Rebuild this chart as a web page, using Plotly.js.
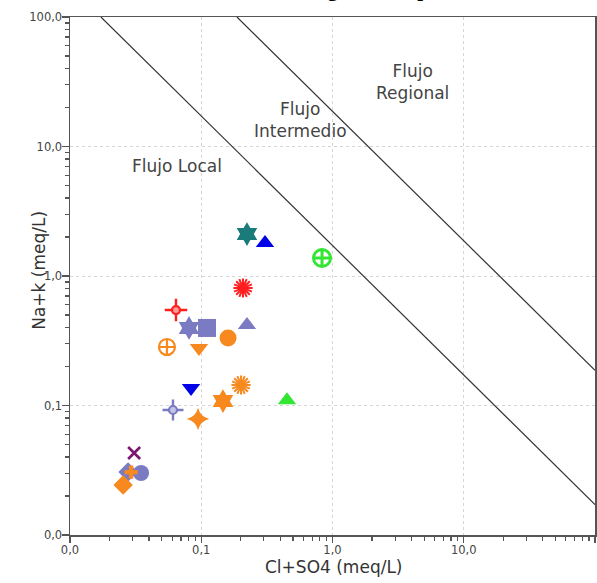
<!DOCTYPE html>
<html>
<head>
<meta charset="utf-8">
<script src="https://cdn.plot.ly/plotly-3.0.1.min.js"></script>
<style>html,body{margin:0;padding:0;background:#fff;}#chart{width:597px;height:583px;}</style>
</head>
<body>
<div id="chart"></div>
<script>
// ---- data ----
const sampleIds = ['M01','M02','M03','M04','M05','M06','M07','M08','M09','M10','M11',
                   'M12','M13','M14','M15','M16','M17','M18','M19','M20','M21','M22'];
const clSo4 = [0.223, 0.306, 0.832, 0.208, 0.0642, 0.0807, 0.1106, 0.223, 0.160, 0.0548, 0.0961,
               0.0836, 0.201, 0.1464, 0.450, 0.0609, 0.0945, 0.0308, 0.0277, 0.0348, 0.0292, 0.0254];
const naK   = [2.11, 1.80, 1.377, 0.808, 0.546, 0.397, 0.397, 0.418, 0.332, 0.283, 0.278,
               0.1365, 0.144, 0.1083, 0.110, 0.0923, 0.0787, 0.043, 0.0306, 0.0301, 0.0306, 0.0243];

// boundary lines between flow systems
const localLineX = [0.0172, 100];
const localLineY = [100, 0.0172];
const regionalLineX = [0.187, 100];
const regionalLineY = [100, 0.187];

const decadeValues = [0.01, 0.1, 1, 10, 100];
const decadeLabels = ['0,0', '0,1', '1,0', '10,0', '100,0'];

const zoneLabels = ['Flujo Local', 'Flujo<br>Intermedio', 'Flujo<br>Regional'];
const xTitle = 'Cl+SO4 (meq/L)';
const yTitle = 'Na+k (meq/L)';
const topTitle = 'Diagrama de pozos';

// ---- tick positions (major decades + minor 2..9) ----
const tickVals = [], tickText = [];
decadeValues.forEach(function(d, k){
  tickVals.push(d); tickText.push(decadeLabels[k]);
  if (k < decadeValues.length - 1) {
    for (let m = 2; m <= 9; m++) { tickVals.push(d * m); tickText.push(''); }
  }
});

// ---- styles ----
const C = {teal:'#1b7b7b', blue:'#0000e6', green:'#33e633', red:'#ff1f1f',
           slate:'#7b7bc4', orange:'#f7891f', purple:'#7d1670'};
const styles = [
  {s:'hexagram', c:C.teal, z:18},
  {s:'triangle-up', c:C.blue, z:16},
  {s:'circle-cross-open', c:C.green, z:17, w:3},
  {s:'burst', c:C.red, z:16, w:2},
  {s:'crosshair', c:C.red, z:16, f:'#ff9a9a'},
  {s:'hexagram', c:C.slate, z:18},
  {s:'square', c:C.slate, z:18},
  {s:'triangle-up', c:C.slate, z:16},
  {s:'circle', c:C.orange, z:17},
  {s:'circle-cross-open', c:C.orange, z:16, w:2.2},
  {s:'triangle-down', c:C.orange, z:16},
  {s:'triangle-down', c:C.blue, z:16},
  {s:'burst', c:C.orange, z:16, w:2},
  {s:'hexagram', c:C.orange, z:18},
  {s:'triangle-up', c:C.green, z:16},
  {s:'crosshair', c:C.slate, z:15, f:'#c4c4e8'},
  {s:'star-diamond', c:C.orange, z:16},
  {s:'x-thin-open', c:C.purple, z:12, w:2.6},
  {s:'diamond', c:C.slate, z:15},
  {s:'circle', c:C.slate, z:16},
  {s:'cross', c:C.orange, z:11},
  {s:'diamond', c:C.orange, z:15}
];

const traces = [];
// empty trace to create the overlay axes used for decade ticks and grid
traces.push({x:[], y:[], xaxis:'x2', yaxis:'y2', mode:'markers', showlegend:false, hoverinfo:'skip'});
traces.push({x: localLineX, y: localLineY, mode:'lines', line:{color:'#333', width:1.2}, hoverinfo:'skip', showlegend:false});
traces.push({x: regionalLineX, y: regionalLineY, mode:'lines', line:{color:'#333', width:1.2}, hoverinfo:'skip', showlegend:false});

sampleIds.forEach(function(id, i){
  const st = styles[i];
  const pt = {x:[clSo4[i]], y:[naK[i]], name:id, mode:'markers', showlegend:false, cliponaxis:false};
  if (st.s === 'crosshair') {
    traces.push(Object.assign({}, pt, {marker:{symbol:'cross-thin-open', size:st.z, color:st.c, line:{color:st.c, width:2.4}}}));
    traces.push(Object.assign({}, pt, {marker:{symbol:'circle', size:Math.round(st.z*0.5), color:st.f, line:{color:st.c, width:2.2}}}));
  } else if (st.s === 'burst') {
    traces.push(Object.assign({}, pt, {marker:{symbol:'asterisk-open', size:st.z, color:st.c, line:{color:st.c, width:st.w}}}));
    traces.push(Object.assign({}, pt, {marker:{symbol:'asterisk-open', size:st.z, angle:22.5, color:st.c, line:{color:st.c, width:st.w}}}));
  } else if (st.s.indexOf('open') >= 0) {
    traces.push(Object.assign({}, pt, {marker:{symbol:st.s, size:st.z, color:st.c, line:{color:st.c, width:st.w}}}));
  } else {
    traces.push(Object.assign({}, pt, {marker:{symbol:st.s, size:st.z, color:st.c, line:{width:0}}}));
  }
});

const axisFont = {family:'DejaVu Sans, Arial, sans-serif', size:11.5, color:'#444'};
const titleFont = {family:'DejaVu Sans, Arial, sans-serif', size:17, color:'#333'};
function axis(){
  return {
    type:'log', range:[-2, 2], tickmode:'array', tickvals:tickVals, ticktext:tickText,
    ticks:'outside', ticklen:4, tickwidth:1.2, tickcolor:'#555',
    showline:true, linecolor:'#555', linewidth:1.5, mirror:true,
    showgrid:false, zeroline:false, tickfont:axisFont, fixedrange:true
  };
}
function decadeAxis(over, anchor, side){
  return {
    overlaying:over, anchor:anchor, side:side,
    type:'log', range:[-2, 2], tickmode:'array', tickvals:decadeValues,
    ticks:'outside', ticklen:7, tickwidth:1.3, tickcolor:'#555', showticklabels:false,
    showline:false, showgrid:true, gridcolor:'#d6d6d6', griddash:'dot', gridwidth:1,
    zeroline:false, fixedrange:true
  };
}

const annFont = {family:'DejaVu Sans, Arial, sans-serif', size:17, color:'#444'};
const layout = {
  width:597, height:583,
  margin:{l:70, r:2, t:17, b:48},
  paper_bgcolor:'#fff', plot_bgcolor:'#fff',
  xaxis: axis(),
  yaxis: axis(),
  xaxis2: decadeAxis('x', 'y2', 'bottom'),
  yaxis2: decadeAxis('y', 'x2', 'left'),
  showlegend:false,
  annotations:[
    {xref:'x', yref:'y', x:-1.185, y:0.849, text:zoneLabels[0], showarrow:false, font:annFont},
    {xref:'x', yref:'y', x:-0.245, y:1.205, text:zoneLabels[1], showarrow:false, font:annFont},
    {xref:'x', yref:'y', x:0.613, y:1.50, text:zoneLabels[2], showarrow:false, font:annFont},
    {xref:'paper', yref:'paper', x:(334-70)/525, y:0, yshift:-32, xanchor:'center', yanchor:'middle',
     text:xTitle, showarrow:false, font:titleFont},
    {xref:'paper', yref:'paper', x:0, xshift:-31, y:0.51, xanchor:'center', yanchor:'middle', textangle:-90,
     text:yTitle, showarrow:false, font:titleFont},
    {xref:'paper', yref:'paper', x:(294-70)/525, y:1, xanchor:'left', yanchor:'bottom', yshift:14,
     text:topTitle, showarrow:false,
     font:{family:'Liberation Serif, serif', size:21, color:'#000', weight:'bold'}}
  ]
};

Plotly.newPlot('chart', traces, layout, {displayModeBar:false, staticPlot:true});
</script>
</body>
</html>
